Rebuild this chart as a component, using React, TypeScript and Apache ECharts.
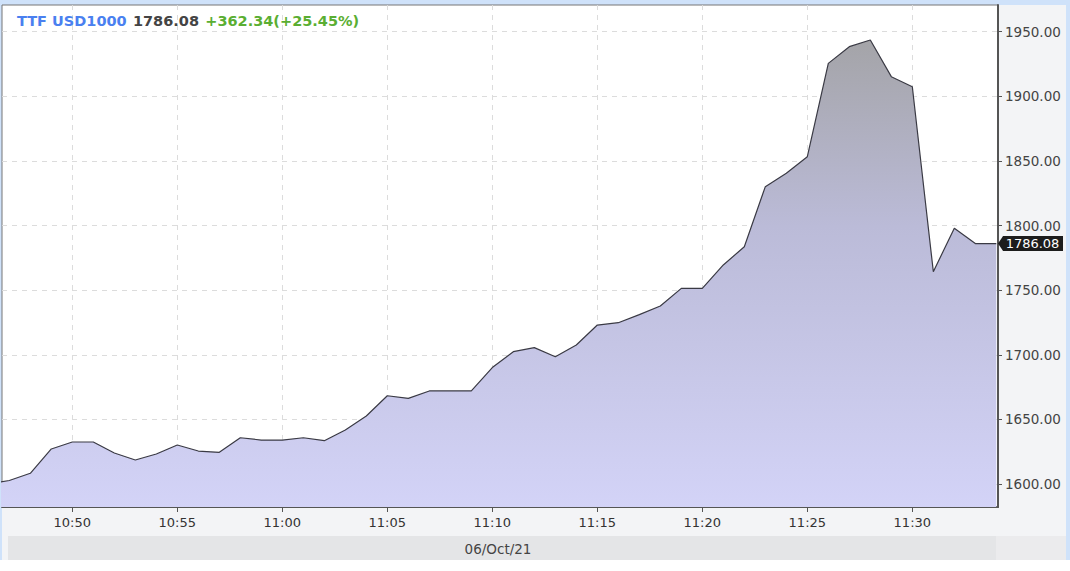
import React, { useEffect, useRef } from "react";
import * as echarts from "echarts";

const instrument = "TTF USD1000";
const dateLabel = "06/Oct/21";
const prevClose = 1423.74;

const times = [
  "10:46", "10:47", "10:48", "10:49", "10:50", "10:51", "10:52", "10:53", "10:54", "10:55",
  "10:56", "10:57", "10:58", "10:59", "11:00", "11:01", "11:02", "11:03", "11:04", "11:05",
  "11:06", "11:07", "11:08", "11:09", "11:10", "11:11", "11:12", "11:13", "11:14", "11:15",
  "11:16", "11:17", "11:18", "11:19", "11:20", "11:21", "11:22", "11:23", "11:24", "11:25",
  "11:26", "11:27", "11:28", "11:29", "11:30", "11:31", "11:32", "11:33", "11:34",
];
const prices = [
  1600.0, 1602.7, 1608.3, 1627.1, 1632.5, 1632.5, 1624.0, 1618.6, 1623.2, 1630.2,
  1625.5, 1624.5, 1635.8, 1634.0, 1634.0, 1635.8, 1633.5, 1641.8, 1652.6, 1668.3,
  1666.3, 1672.0, 1672.0, 1672.0, 1690.1, 1702.4, 1705.5, 1698.5, 1707.6, 1723.0,
  1724.8, 1731.1, 1737.7, 1751.4, 1751.4, 1769.5, 1783.6, 1830.1, 1840.4, 1853.3,
  1925.5, 1938.4, 1943.6, 1915.2, 1907.4, 1764.3, 1797.9, 1786.08, 1786.08,
];
const xTickLabels = ["10:50", "10:55", "11:00", "11:05", "11:10", "11:15", "11:20", "11:25", "11:30"];
const yTicks = [1600, 1650, 1700, 1750, 1800, 1850, 1900, 1950];

const xMin = "10:46.652";
const xMax = "11:34.08";
const yMin = 1582.2;
const yMax = 1970.66;

const toMin = (s: string) => {
  const [h, m] = s.split(":");
  return parseInt(h, 10) * 60 + parseFloat(m);
};
const fmtTime = (v: number) => {
  const h = Math.floor(v / 60);
  const m = Math.round(v - h * 60);
  return `${h}:${m < 10 ? "0" : ""}${m}`;
};

const FONT = "DejaVu Sans";

export default function App() {
  const ref = useRef<HTMLDivElement>(null);
  useEffect(() => {
    if (!ref.current) return;
    const chart = echarts.init(ref.current, null, { renderer: "svg" });
    const last = prices[prices.length - 1];
    const change = last - prevClose;
    const pct = (change / prevClose) * 100;
    const xTickVals = xTickLabels.map(toMin);
    const dashed = { show: true, lineStyle: { type: [5, 5], color: "#dcdcdc", width: 1 } };

    chart.setOption({
      animation: false,
      backgroundColor: "#cfe2fa",
      textStyle: { fontFamily: FONT },
      title: {
        left: 17,
        top: 12,
        padding: 0,
        text: `{a|${instrument}} {b|${last.toFixed(2)}} {c|${change >= 0 ? "+" : ""}${change.toFixed(2)}(${pct >= 0 ? "+" : ""}${pct.toFixed(2)}%)}`,
        textStyle: {
          rich: {
            a: { color: "#4a80f0", fontWeight: "bold", fontSize: 14.5, fontFamily: FONT },
            b: { color: "#444444", fontWeight: "bold", fontSize: 14.5, fontFamily: FONT },
            c: { color: "#5aae32", fontWeight: "bold", fontSize: 14.5, fontFamily: FONT },
          },
        },
      },
      graphic: [
        { type: "rect", z: -5, silent: true, shape: { x: 2, y: 5, width: 1064, height: 555 }, style: { fill: "#f3f4f6" } },
        { type: "rect", z: -5, silent: true, shape: { x: 8, y: 536, width: 988, height: 24 }, style: { fill: "#e4e5e7" } },
        { type: "rect", z: -5, silent: true, shape: { x: 996, y: 536, width: 70, height: 24 }, style: { fill: "#ebebed" } },
        { type: "rect", z: -5, silent: true, shape: { x: 0, y: 560, width: 1070, height: 11 }, style: { fill: "#ffffff" } },
        {
          type: "text",
          x: 498,
          y: 549,
          style: { text: dateLabel, fill: "#444", fontSize: 13.5, fontFamily: FONT, align: "center", verticalAlign: "middle" },
        },
      ],
      grid: {
        left: 2,
        top: 5,
        right: 72,
        bottom: 64,
        show: true,
        backgroundColor: "#ffffff",
        borderColor: "#777",
        borderWidth: 1,
      },
      xAxis: {
        type: "value",
        min: toMin(xMin),
        max: toMin(xMax),
        axisLine: { show: true, onZero: false, lineStyle: { color: "#555", width: 2 } },
        axisTick: { show: true, length: 5, customValues: xTickVals, lineStyle: { color: "#555" } },
        axisLabel: { customValues: xTickVals, formatter: (v: number) => fmtTime(v), color: "#333", fontSize: 13, margin: 9, fontFamily: FONT },
        splitLine: dashed,
      },
      yAxis: {
        type: "value",
        position: "right",
        min: yMin,
        max: yMax,
        axisLine: { show: true, onZero: false, lineStyle: { color: "#555", width: 2 } },
        axisTick: { show: true, length: 4, customValues: yTicks, lineStyle: { color: "#555" } },
        axisLabel: { customValues: yTicks, formatter: (v: number) => v.toFixed(2), color: "#444", fontSize: 13.5, margin: 7, fontFamily: FONT },
        splitLine: dashed,
      },
      series: [
        {
          type: "line",
          data: times.map((t, i) => [toMin(t), prices[i]]),
          symbol: "none",
          clip: true,
          lineStyle: { color: "#3a3a44", width: 1.2 },
          areaStyle: {
            origin: "start",
            opacity: 1,
            color: new echarts.graphic.LinearGradient(0, 0, 0, 1, [
              { offset: 0, color: "#a4a4a8" },
              { offset: 0.4, color: "#bbbbd8" },
              { offset: 1, color: "#d3d3f7" },
            ]),
          },
          markPoint: {
            symbol: "path://M0,7 L5,0 L64,0 L64,14 L5,14 Z",
            symbolSize: [65, 15],
            symbolOffset: [32.5, 0],
            symbolKeepAspect: false,
            itemStyle: { color: "#1c1c1c" },
            label: { show: true, color: "#fff", fontSize: 13, fontFamily: FONT, offset: [2, 0], formatter: () => last.toFixed(2) },
            data: [{ coord: [toMin(xMax), last] }],
          },
        },
      ],
    });
    return () => chart.dispose();
  }, []);
  return <div ref={ref} style={{ position: "absolute", left: 0, top: 0, width: 1070, height: 571 }} />;
}
